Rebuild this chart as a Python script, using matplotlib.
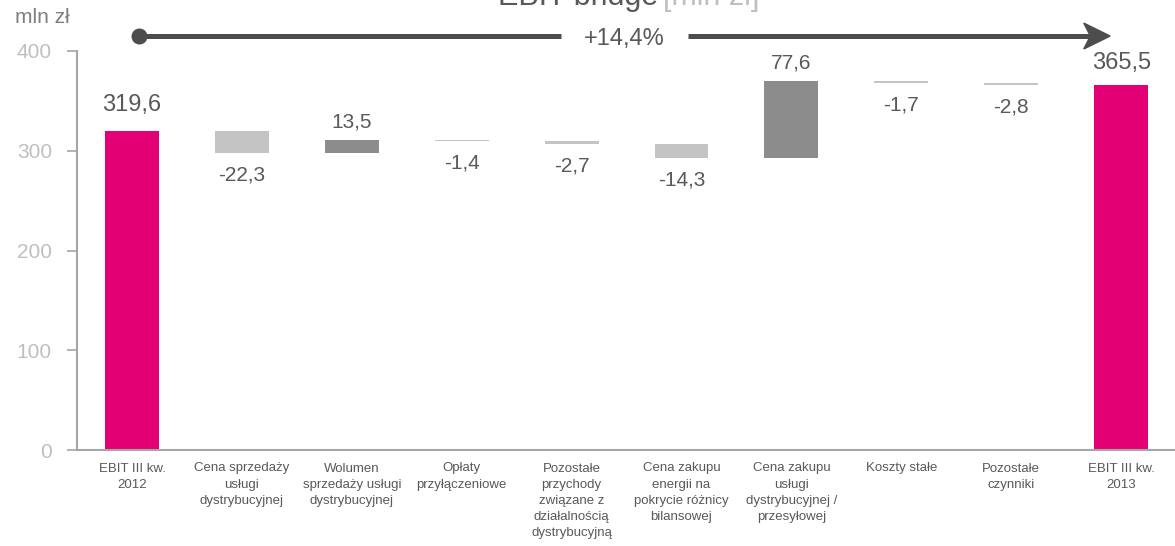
import matplotlib
matplotlib.use("Agg")
import matplotlib.pyplot as plt
from matplotlib.patches import Polygon

plt.rcParams['font.family'] = ['Liberation Sans', 'DejaVu Sans']

# ---- data -------------------------------------------------------------
categories = [
    "EBIT III kw.\n2012",
    "Cena sprzedaży\nusługi\ndystrybucyjnej",
    "Wolumen\nsprzedaży usługi\ndystrybucyjnej",
    "Opłaty\nprzyłączeniowe",
    "Pozostałe\nprzychody\nzwiązane z\ndziałalnością\ndystrybucyjną",
    "Cena zakupu\nenergii na\npokrycie różnicy\nbilansowej",
    "Cena zakupu\nusługi\ndystrybucyjnej /\nprzesyłowej",
    "Koszty stałe",
    "Pozostałe\nczynniki",
    "EBIT III kw.\n2013",
]
start_value = 319.6
changes = [-22.3, 13.5, -1.4, -2.7, -14.3, 77.6, -1.7, -2.8]
end_value = 365.5
growth_label = "+14,4%"
y_ticks = [0, 100, 200, 300, 400]

# ---- style ------------------------------------------------------------
PINK = "#E20074"
NEG = "#C4C4C4"
POS = "#8C8C8C"
TXT = "#595959"
AXIS = "#A6A6A6"
TICKTXT = "#BFBFBF"
ARROW = "#4D4D4D"

def fmt(v):
    return f"{v:.1f}".replace(".", ",")

fig = plt.figure(figsize=(11.75, 5.46), dpi=100)
W, H = 1175, 546
ax = fig.add_axes([77 / W, 1 - 450 / H, (1175 - 77) / W, 399 / H])

# ---- waterfall bars ---------------------------------------------------
bw = 0.49
n = len(categories)
ax.bar(0, start_value, width=bw, color=PINK, zorder=3)
ax.annotate(fmt(start_value), (0, start_value), xytext=(0, 11),
            textcoords="offset points", ha="center", va="bottom",
            fontsize=17, color=TXT)

level = start_value
for i, d in enumerate(changes, start=1):
    bottom = level if d >= 0 else level + d
    ax.bar(i, abs(d), bottom=bottom, width=bw,
           color=POS if d >= 0 else NEG, zorder=3)
    if d >= 0:
        ax.annotate(fmt(d), (i, level + d), xytext=(0, 6),
                    textcoords="offset points", ha="center", va="bottom",
                    fontsize=15, color=TXT)
    else:
        ax.annotate(fmt(d), (i, level + d), xytext=(0, -9),
                    textcoords="offset points", ha="center", va="top",
                    fontsize=15, color=TXT)
    level += d

ax.bar(n - 1, end_value, width=bw, color=PINK, zorder=3)
ax.annotate(fmt(end_value), (n - 1, end_value), xytext=(0, 8),
            textcoords="offset points", ha="center", va="bottom",
            fontsize=17, color=TXT)

# ---- axes -------------------------------------------------------------
ax.set_xlim(-0.5, n - 0.51)
ax.set_ylim(0, 400)
ax.set_yticks(y_ticks)
ax.set_yticklabels([str(t) for t in y_ticks])
ax.set_xticks(range(n))
ax.set_xticklabels(categories, fontsize=9.5, color=TXT, linespacing=1.47,
                   va="top")
ax.tick_params(axis="x", length=0, pad=9)
ax.tick_params(axis="y", length=7, width=1.2, color=AXIS, labelsize=15,
               labelcolor=TICKTXT, pad=11)
for s in ("top", "right"):
    ax.spines[s].set_visible(False)
for s in ("left", "bottom"):
    ax.spines[s].set_color(AXIS)
    ax.spines[s].set_linewidth(1.5)
ax.spines["bottom"].set_zorder(4)

# ---- growth arrow -----------------------------------------------------
ya = 415
x0, gap_l, gap_r, x_back, x_tip = 0.064, 3.90, 5.06, 8.72, 8.90
ax.plot([x0, gap_l], [ya, ya], color=ARROW, lw=3.6, clip_on=False,
        solid_capstyle="butt")
ax.plot([gap_r, x_back + 0.03], [ya, ya], color=ARROW, lw=3.6,
        clip_on=False, solid_capstyle="butt")
ax.plot([x0], [ya], marker="o", ms=10.5, color=ARROW, clip_on=False)
head = Polygon([[x_tip, ya], [x_back - 0.06, ya + 13],
                [x_back, ya], [x_back - 0.06, ya - 13]],
               closed=True, color=ARROW, clip_on=False)
ax.add_patch(head)
ax.text((gap_l + gap_r) / 2, ya - 3, growth_label, ha="center",
        va="center", fontsize=17, color=TXT)

# ---- titles -----------------------------------------------------------
fig.text(498 / W, 1 - 5 / H, "EBIT bridge", ha="left", va="baseline",
         fontsize=22, color=TXT)
fig.text(663 / W, 1 - 5 / H, "[mln zł]", ha="left", va="baseline",
         fontsize=22, color=TICKTXT)
fig.text(15 / W, 1 - 23 / H, "mln zł", ha="left", va="baseline",
         fontsize=15, color="#7F7F7F")

fig.savefig("out.png", dpi=100)
